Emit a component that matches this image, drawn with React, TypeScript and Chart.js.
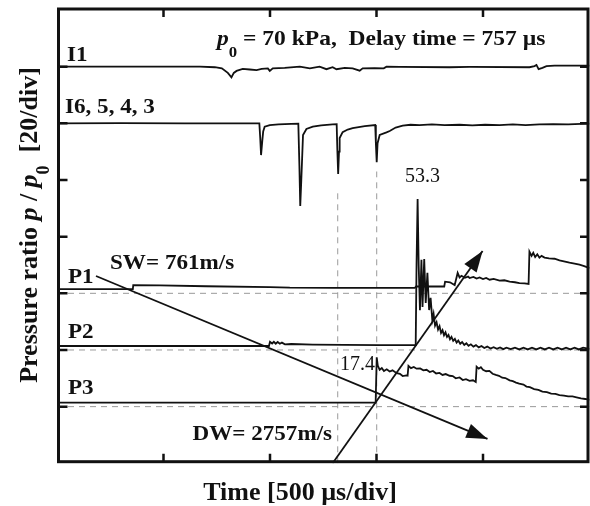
import React, { useEffect, useRef } from "react";
import { Chart, registerables } from "chart.js";
Chart.register(...registerables);

// Axis: time in µs (500 µs/div), pressure ratio (20/div), 8 divisions
const X_MAX = 2500;
const Y_MAX = 160;
const X_TICKS = [500, 1000, 1500, 2000];
const Y_TICKS = [20, 40, 60, 80, 100, 120, 140];

// Trace offsets (in y units) for each channel
const OFF_I1 = 140;
const OFF_I6 = 120;
const OFF_P1 = 60;
const OFF_P2 = 40;
const OFF_P3 = 20;

// I1 ion probe signal
const I1_T = [0, 671, 741, 774, 802, 819, 830, 843, 872, 905, 937, 961, 990, 999, 1013, 1069, 1140, 1187, 1233, 1265, 1294, 1312, 1351, 1388, 1421, 1435, 1491, 1534, 1547, 1609, 1843, 1937, 2218, 2242, 2251, 2261, 2279, 2298, 2336, 2500];
const I1_V = [0, 0, -0.2, -0.6, -2.2, -3.8, -2.2, -1.5, -0.8, -1.0, -1.2, -0.8, -0.6, -1.5, -0.6, -0.4, 0, -0.6, 0, -0.9, -0.2, -0.9, -0.4, -0.6, -1.4, -0.6, -0.5, -0.6, 0, -0.1, -0.2, -0.1, -0.2, 0.2, 0.6, -0.9, -0.4, 0.2, 0.4, 0.4];

// I6, 5, 4, 3 ion probe signals
const I6_T = [0, 300, 600, 950, 954, 958, 964, 968, 975, 999, 1040, 1069, 1100, 1133, 1138, 1142, 1147, 1155, 1171, 1201, 1240, 1294, 1313, 1316, 1320, 1324, 1327, 1341, 1365, 1388, 1445, 1494, 1497, 1501, 1505, 1515, 1547, 1562, 1590, 1623, 1660, 1702, 1760, 1820, 1890, 1950, 2010, 2078, 2140, 2200, 2265, 2330, 2400, 2460, 2500];
const I6_V = [0, 0.1, 0, 0, -5, -11.2, -6, -2.9, -1.2, -0.6, -0.4, -0.3, -0.2, -0.1, -15, -29.2, -20, -4.1, -2.0, -1.2, -0.7, -0.4, -0.3, -9, -17.9, -10, -5.2, -3.1, -2.2, -1.7, -1.0, -0.6, -7, -13.7, -7, -4.1, -3.2, -2.7, -1.5, -0.8, -0.5, -0.6, -0.4, -0.6, -0.5, -0.7, -0.5, -0.6, -0.4, -0.6, -0.4, -0.3, -0.4, -0.2, -0.1];

// P1 pressure ratio
const P1_T = [0, 356, 358, 483, 700, 1000, 1093, 1300, 1515, 1680, 1686, 1760, 1818, 1822, 1845, 1867, 1881, 1890, 1899, 1915, 1930, 1937, 1955, 1970, 1984, 2000, 2015, 2031, 2050, 2078, 2100, 2125, 2150, 2171, 2195, 2214, 2218, 2228, 2236, 2245, 2255, 2265, 2275, 2289, 2310, 2336, 2359, 2380, 2406, 2430, 2453, 2475, 2500];
const P1_V = [1.5, 1.5, 2.9, 2.8, 2.5, 2.2, 2.0, 1.9, 1.9, 1.9, 2.4, 2.4, 2.4, 4.1, 3.9, 2.9, 7.2, 5.6, 6.2, 5.5, 5.9, 5.4, 5.8, 5.2, 5.6, 5.0, 5.4, 4.8, 5.1, 4.5, 4.6, 4.1, 3.9, 3.6, 3.5, 3.3, 14.7, 13.2, 14.3, 12.8, 13.8, 12.6, 13.2, 12.6, 12.3, 12.2, 11.6, 11.3, 10.8, 10.5, 10.1, 9.6, 8.9];

// P2 pressure ratio (peak 53.3)
const P2_T = [0, 995, 1000, 1010, 1018, 1027, 1036, 1046, 1056, 1070, 1100, 1200, 1350, 1515, 1684, 1688, 1693, 1698, 1704, 1711, 1716, 1724, 1731, 1739, 1747, 1754, 1762, 1768, 1775, 1782, 1789, 1796, 1803, 1810, 1817, 1824, 1831, 1838, 1845, 1852, 1860, 1868, 1876, 1884, 1893, 1902, 1912, 1922, 1932, 1943, 1955, 1967, 1980, 1993, 2006, 2020, 2035, 2050, 2065, 2080, 2095, 2110, 2130, 2150, 2170, 2190, 2210, 2230, 2250, 2270, 2290, 2310, 2330, 2350, 2370, 2390, 2410, 2430, 2450, 2470, 2500];
const P2_V = [1.4, 1.4, 2.9, 2.3, 2.9, 2.2, 2.8, 2.2, 2.6, 2.0, 2.1, 1.9, 1.8, 1.7, 1.7, 30, 53.3, 30, 14, 31.8, 15.2, 32.1, 16.6, 27.2, 14.1, 18.4, 10.6, 12.8, 8.6, 9.8, 7.2, 8.4, 6.0, 7.0, 5.2, 6.2, 4.6, 5.3, 3.8, 4.6, 3.2, 3.9, 2.6, 3.3, 2.2, 2.8, 1.8, 2.4, 1.5, 2.0, 1.2, 1.7, 0.9, 1.4, 0.7, 1.2, 0.5, 1.0, 0.4, 0.9, 0.3, 0.8, 0.3, 0.8, 0.2, 0.8, 0.2, 0.8, 0.2, 0.8, 0.2, 0.8, 0.2, 0.8, 0.2, 0.8, 0.2, 0.8, 0.2, 0.8, 0.4];

// P3 pressure ratio (jump 17.4)
const P3_T = [0, 1496, 1501, 1506, 1515, 1525, 1535, 1548, 1562, 1575, 1595, 1610, 1623, 1640, 1646, 1650, 1662, 1675, 1688, 1705, 1720, 1735, 1750, 1765, 1780, 1796, 1810, 1825, 1843, 1858, 1872, 1890, 1905, 1920, 1937, 1953, 1966, 1970, 1980, 1990, 2000, 2015, 2030, 2045, 2060, 2075, 2090, 2105, 2125, 2140, 2155, 2170, 2190, 2204, 2220, 2240, 2260, 2279, 2300, 2320, 2340, 2359, 2380, 2400, 2420, 2439, 2460, 2480, 2500];
const P3_V = [1.4, 1.4, 17.4, 14.5, 13.0, 13.6, 12.6, 13.2, 12.4, 12.8, 11.8, 11.6, 10.8, 11.0, 10.9, 14.4, 13.6, 14.0, 13.4, 13.5, 12.8, 13.0, 12.2, 12.6, 11.7, 11.9, 11.2, 11.5, 10.9, 10.8, 10.0, 10.3, 9.4, 9.7, 9.1, 9.3, 8.7, 14.1, 13.4, 13.9, 13.0, 12.5, 12.6, 11.6, 11.2, 10.9, 10.2, 10.1, 9.3, 9.0, 8.5, 8.1, 7.8, 7.1, 6.9, 6.2, 5.9, 5.3, 5.1, 4.6, 4.5, 4.1, 3.9, 3.6, 3.6, 3.3, 2.9, 2.7, 2.4];

// Wave trajectory arrows (time, y)
const SW_T = [183, 2021];
const SW_Y = [66.1, 8.6];
const DW_T = [1294, 1998];
const DW_Y = [0, 74.9];

// Reference dashed lines
const DASH_V_T = [1318, 1501];
const DASH_V_TOP = [97, 103];
const DASH_H_Y = [OFF_P1, OFF_P2, OFF_P3];

const INK = "#111111";

function pts(ts: number[], vs: number[], off: number) {
  return ts.map((t, i) => ({ x: t, y: off + vs[i] }));
}

type Seg = { t: string; font: string; dy?: number };
function drawSegs(ctx: CanvasRenderingContext2D, segs: Seg[], x: number, y: number, sx = 1, align = "left") {
  ctx.save();
  let total = 0;
  const w: number[] = [];
  segs.forEach((s) => {
    ctx.font = s.font;
    const m = ctx.measureText(s.t).width;
    w.push(m);
    total += m;
  });
  ctx.translate(x, y);
  ctx.scale(sx, 1);
  let cx = align === "center" ? -total / 2 : 0;
  ctx.textBaseline = "alphabetic";
  ctx.textAlign = "left";
  segs.forEach((s, i) => {
    ctx.font = s.font;
    ctx.fillText(s.t, cx, s.dy || 0);
    cx += w[i];
  });
  ctx.restore();
}

const SERIF = '"Liberation Serif", "Times New Roman", serif';
const B = (n: number) => `bold ${n}px ${SERIF}`;
const BI = (n: number) => `italic bold ${n}px ${SERIF}`;
const R = (n: number) => `${n}px ${SERIF}`;

const decor = {
  id: "decor",
  beforeDraw(chart: any) {
    const ctx = chart.ctx;
    ctx.save();
    ctx.fillStyle = "#ffffff";
    ctx.fillRect(0, 0, chart.width, chart.height);
    ctx.restore();
  },
  afterDatasetsDraw(chart: any) {
    const ctx: CanvasRenderingContext2D = chart.ctx;
    const a = chart.chartArea;
    const xs = chart.scales.x;
    const ys = chart.scales.y;
    ctx.save();
    ctx.strokeStyle = INK;
    ctx.fillStyle = INK;

    // arrowheads
    const head = (dsIndex: number) => {
      const d = chart.data.datasets[dsIndex].data;
      const p0 = d[d.length - 2];
      const p1 = d[d.length - 1];
      const x0 = xs.getPixelForValue(p0.x), y0 = ys.getPixelForValue(p0.y);
      const x1 = xs.getPixelForValue(p1.x), y1 = ys.getPixelForValue(p1.y);
      const ang = Math.atan2(y1 - y0, x1 - x0);
      const L = 21, H = 7.5;
      ctx.beginPath();
      ctx.moveTo(x1, y1);
      ctx.lineTo(x1 - L * Math.cos(ang) + H * Math.sin(ang), y1 - L * Math.sin(ang) - H * Math.cos(ang));
      ctx.lineTo(x1 - L * Math.cos(ang) - H * Math.sin(ang), y1 - L * Math.sin(ang) + H * Math.cos(ang));
      ctx.closePath();
      ctx.fill();
    };
    head(5);
    head(6);

    // frame
    const L0 = a.left + 1.5, R0 = a.right - 1.5, T0 = a.top - 1, B0 = a.bottom - 1.6;
    ctx.lineWidth = 3;
    ctx.strokeRect(L0, T0, R0 - L0, B0 - T0);

    // inward ticks
    ctx.lineWidth = 2.5;
    ctx.beginPath();
    X_TICKS.forEach((t) => {
      const px = xs.getPixelForValue(t);
      ctx.moveTo(px, T0);
      ctx.lineTo(px, T0 + 8);
      ctx.moveTo(px, B0);
      ctx.lineTo(px, B0 - 8);
    });
    Y_TICKS.forEach((v) => {
      const py = ys.getPixelForValue(v);
      ctx.moveTo(L0, py);
      ctx.lineTo(L0 + 9, py);
      ctx.moveTo(R0, py);
      ctx.lineTo(R0 - 8, py);
    });
    ctx.stroke();

    // labels
    const sx = 1.1;
    drawSegs(ctx, [{ t: "I1", font: B(21) }], 67, 61, sx);
    drawSegs(ctx, [{ t: "I6, 5, 4, 3", font: B(21) }], 65, 113, sx);
    drawSegs(ctx, [{ t: "P1", font: B(21) }], 68, 283, sx);
    drawSegs(ctx, [{ t: "P2", font: B(21) }], 68, 338, sx);
    drawSegs(ctx, [{ t: "P3", font: B(21) }], 68, 393.5, sx);
    drawSegs(ctx, [{ t: "SW= 761m/s", font: B(21) }], 110, 269, sx);
    drawSegs(ctx, [{ t: "DW= 2757m/s", font: B(21) }], 192.5, 439.5, sx);
    drawSegs(ctx, [{ t: "53.3", font: R(20) }], 405, 181.5, 1.0);
    drawSegs(ctx, [{ t: "17.4", font: R(20) }], 340, 369.5, 1.0);
    drawSegs(
      ctx,
      [
        { t: "p", font: BI(21) },
        { t: "0", font: B(15), dy: 11.5 },
        { t: " = 70 kPa,  Delay time = 757 \u00b5s", font: B(21) },
      ],
      217,
      45,
      1.12
    );

    // axis titles
    drawSegs(ctx, [{ t: "Time [500 \u00b5s/div]", font: B(26) }], 300, 500, 1, "center");
    ctx.save();
    ctx.translate(37, 225);
    ctx.rotate(-Math.PI / 2);
    drawSegs(
      ctx,
      [
        { t: "Pressure ratio ", font: B(26) },
        { t: "p", font: BI(26) },
        { t: " / ", font: B(26) },
        { t: "p", font: BI(26) },
        { t: "0", font: B(18), dy: 12 },
        { t: "  [20/div]", font: B(26) },
      ],
      0,
      0,
      1,
      "center"
    );
    ctx.restore();

    ctx.restore();
  },
};

export default function App() {
  const ref = useRef<HTMLCanvasElement | null>(null);
  useEffect(() => {
    if (!ref.current) return;
    const trace = (data: any[]) => ({
      data,
      showLine: true,
      borderColor: INK,
      borderWidth: 1.8,
      pointRadius: 0,
      tension: 0,
      fill: false,
      order: 1,
    });
    const dashed = (data: any[]) => ({
      data,
      showLine: true,
      borderColor: "#9a9a9a",
      borderWidth: 1,
      borderDash: [6, 5],
      pointRadius: 0,
      fill: false,
      order: 5,
    });
    const datasets: any[] = [
      trace(pts(I1_T, I1_V, OFF_I1)),
      trace(pts(I6_T, I6_V, OFF_I6)),
      trace(pts(P1_T, P1_V, OFF_P1)),
      trace(pts(P2_T, P2_V, OFF_P2)),
      trace(pts(P3_T, P3_V, OFF_P3)),
      trace(SW_T.map((t, i) => ({ x: t, y: SW_Y[i] }))),
      trace(DW_T.map((t, i) => ({ x: t, y: DW_Y[i] }))),
    ];
    DASH_H_Y.forEach((v) => datasets.push(dashed([{ x: 0, y: v }, { x: X_MAX, y: v }])));
    DASH_V_T.forEach((t, i) => datasets.push(dashed([{ x: t, y: 0 }, { x: t, y: DASH_V_TOP[i] }])));

    const chart = new Chart(ref.current, {
      type: "scatter",
      data: { datasets },
      options: {
        animation: false,
        responsive: false,
        events: [],
        layout: { padding: { left: 57, right: 0.5, top: 10, bottom: 42.7 } },
        plugins: { legend: { display: false }, tooltip: { enabled: false } },
        scales: {
          x: { type: "linear", min: 0, max: X_MAX, display: false },
          y: { type: "linear", min: 0, max: Y_MAX, display: false },
        },
      },
      plugins: [decor],
    });
    return () => chart.destroy();
  }, []);
  return (
    <div style={{ position: "fixed", left: 0, top: 0, width: 590, height: 506, background: "#fff" }}>
      <canvas ref={ref} width={590} height={506} style={{ display: "block" }} />
    </div>
  );
}
